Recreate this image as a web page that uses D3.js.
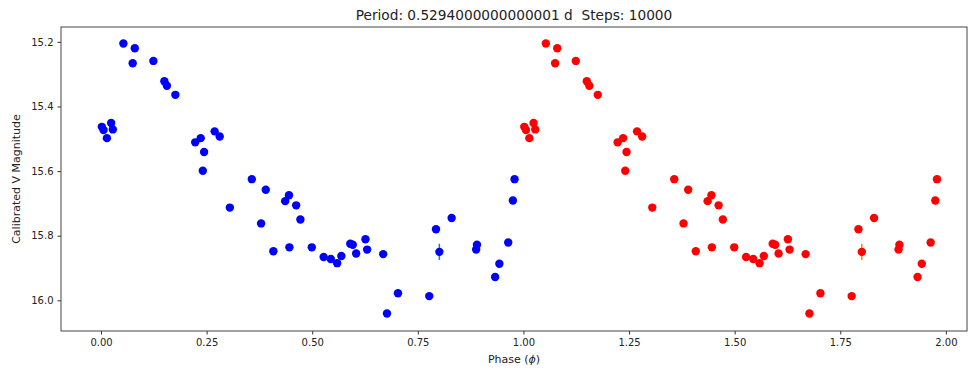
<!DOCTYPE html>
<html>
<head>
<meta charset="utf-8">
<script src="https://cdn.jsdelivr.net/npm/d3@7"></script>
<style>
  body { margin: 0; background: #fff; }
  svg text { font-family: "DejaVu Sans", sans-serif; fill: #222; white-space: pre; }
</style>
</head>
<body>
<svg id="chart" width="968" height="370"></svg>
<script>
// folded light curve, phase 0..1 (the red copy is phase + 1)
const phase = [0.002, 0.006, 0.014, 0.024, 0.028, 0.053, 0.075, 0.080, 0.124, 0.150,
  0.156, 0.176, 0.223, 0.236, 0.241, 0.244, 0.269, 0.281, 0.305, 0.357,
  0.379, 0.390, 0.408, 0.436, 0.445, 0.446, 0.462, 0.472, 0.499, 0.527,
  0.544, 0.559, 0.569, 0.590, 0.596, 0.604, 0.626, 0.630, 0.668, 0.677,
  0.703, 0.777, 0.793, 0.801, 0.830, 0.888, 0.890, 0.933, 0.943, 0.964,
  0.975, 0.979];
const magnitude = [15.463, 15.473, 15.498, 15.451, 15.471, 15.205, 15.266, 15.220, 15.259, 15.322,
  15.336, 15.364, 15.511, 15.498, 15.599, 15.541, 15.477, 15.493, 15.713, 15.625,
  15.762, 15.658, 15.848, 15.693, 15.675, 15.836, 15.706, 15.750, 15.836, 15.866,
  15.872, 15.885, 15.863, 15.825, 15.828, 15.855, 15.811, 15.843, 15.857, 16.041,
  15.978, 15.987, 15.780, 15.850, 15.745, 15.843, 15.828, 15.928, 15.887, 15.821,
  15.691, 15.625];
const magErr = [0.005, 0.005, 0.005, 0.005, 0.005, 0.005, 0.005, 0.005, 0.005, 0.005,
  0.005, 0.005, 0.005, 0.005, 0.005, 0.005, 0.005, 0.005, 0.005, 0.005,
  0.005, 0.005, 0.005, 0.005, 0.005, 0.005, 0.005, 0.005, 0.005, 0.005,
  0.005, 0.005, 0.005, 0.005, 0.005, 0.005, 0.005, 0.005, 0.005, 0.005,
  0.005, 0.005, 0.005, 0.025, 0.005, 0.005, 0.005, 0.005, 0.005, 0.005,
  0.005, 0.005];
const xTicks = [0, 0.25, 0.5, 0.75, 1, 1.25, 1.5, 1.75, 2];
const yTicks = [15.2, 15.4, 15.6, 15.8, 16.0];

const svg = d3.select('#chart'),
  margin = {top: 27, right: 1, bottom: 39, left: 61},
  width = +svg.attr('width') - margin.left - margin.right,
  height = +svg.attr('height') - margin.top - margin.bottom;

const x = d3.scaleLinear().domain([-0.0947, 2.050]).range([0, width]),
  y = d3.scaleLinear().domain([15.154, 16.095]).range([0, height]);

const g = svg.append('g')
  .attr('transform', 'translate(' + margin.left + ',' + margin.top + ')');

const xAxis = g.append('g')
  .attr('transform', 'translate(0,' + height + ')')
  .call(d3.axisBottom(x).tickValues(xTicks).tickFormat(d3.format('.2f')).tickSize(3.5).tickPadding(4));
const yAxis = g.append('g')
  .call(d3.axisLeft(y).tickValues(yTicks).tickFormat(d3.format('.1f')).tickSize(3.5).tickPadding(4));
[xAxis, yAxis].forEach(function (a) {
  a.select('.domain').remove();
  a.selectAll('line').attr('stroke', '#333');
  a.selectAll('text').style('font-size', '10px').attr('fill', '#222');
});

// frame
g.append('rect')
  .attr('width', width).attr('height', height)
  .attr('fill', 'none').attr('stroke', '#444').attr('stroke-width', 1);

const series = [
  {shift: 0, color: 'blue', err: '#1f77b4'},
  {shift: 1, color: 'red', err: '#ff7f0e'}
];

const points = phase.map(function (p, i) {
  return {p: p, m: magnitude[i], e: magErr[i]};
});

series.forEach(function (s) {
  const sg = g.append('g');
  sg.selectAll('.err')
    .data(points)
    .enter().append('line')
    .attr('x1', function (d) { return x(d.p + s.shift); })
    .attr('x2', function (d) { return x(d.p + s.shift); })
    .attr('y1', function (d) { return y(d.m - d.e); })
    .attr('y2', function (d) { return y(d.m + d.e); })
    .attr('stroke', s.err).attr('stroke-width', 1.5);
  sg.selectAll('.dot')
    .data(points)
    .enter().append('circle')
    .attr('cx', function (d) { return x(d.p + s.shift); })
    .attr('cy', function (d) { return y(d.m); })
    .attr('r', 4.2)
    .attr('fill', s.color);
});

svg.append('text')
  .attr('x', margin.left + width / 2).attr('y', 20)
  .attr('text-anchor', 'middle').style('font-size', '13.7px')
  .text('Period: 0.5294000000000001 d  Steps: 10000');

const xl = svg.append('text')
  .attr('x', margin.left + width / 2).attr('y', 363)
  .attr('text-anchor', 'middle').style('font-size', '11px');
xl.append('tspan').text('Phase (');
xl.append('tspan').style('font-style', 'italic').text('\u03D5');
xl.append('tspan').text(')');

svg.append('text')
  .attr('transform', 'translate(20,' + (margin.top + height / 2) + ') rotate(-90)')
  .attr('text-anchor', 'middle').style('font-size', '11px')
  .text('Calibrated V Magnitude');
</script>
</body>
</html>
